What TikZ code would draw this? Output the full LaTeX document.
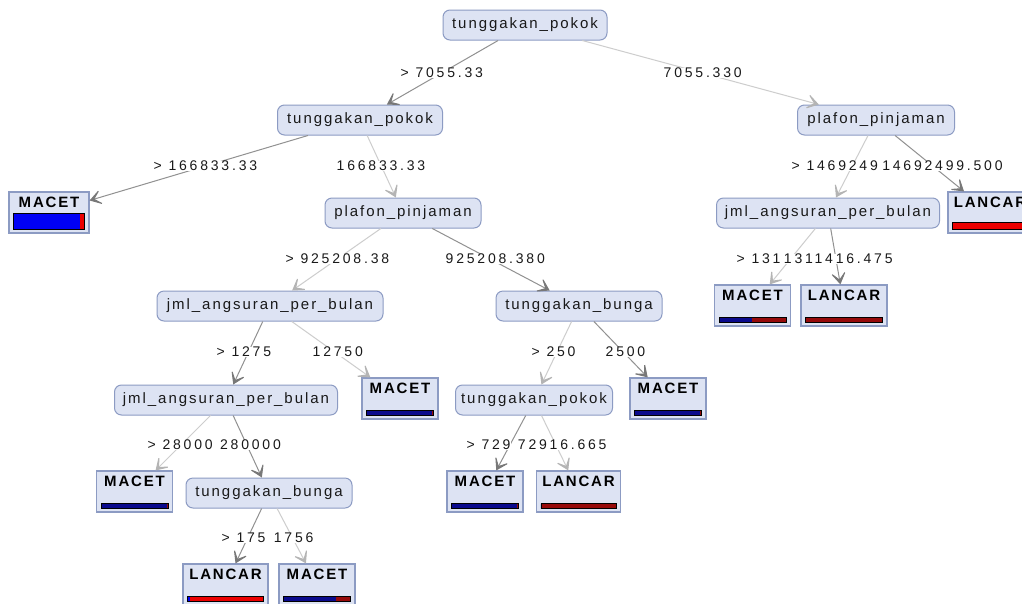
\documentclass[tikz,border=0pt]{standalone}
\usepackage{fontspec}
\setmainfont{Liberation Sans}
\newfontfamily\nfont[LetterSpace=13]{Liberation Sans}
\newfontfamily\bfont[LetterSpace=12]{Liberation Sans Bold}
\newfontfamily\lfont[LetterSpace=20]{Liberation Sans}
\usetikzlibrary{arrows.meta,calc}
\definecolor{nodefill}{RGB}{221,227,243}
\definecolor{nodeborder}{RGB}{140,155,195}
\definecolor{edgedark}{RGB}{145,145,145}
\definecolor{edgelight}{RGB}{205,205,205}
\definecolor{tipdark}{RGB}{120,120,120}
\definecolor{tiplight}{RGB}{180,180,180}
\definecolor{nblue}{RGB}{10,10,140}
\definecolor{nred}{RGB}{150,10,10}
\definecolor{bblue}{RGB}{0,0,245}
\definecolor{bred}{RGB}{235,0,0}
\tikzset{
  inner/.style={draw=nodeborder, fill=nodefill, rounded corners=7pt, line width=1pt,
    minimum height=30, inner sep=0pt, text=black!90, font=\nfont\fontsize{15}{17}\selectfont},
  leafbox/.style={draw=nodeborder, fill=nodefill, line width=1.2pt, minimum height=41, inner sep=0pt},
  leaftext/.style={font=\bfont\fontsize{15}{17}\selectfont, text=black, inner sep=0pt},
  elabel/.style={anchor=west, fill=white, inner sep=0.5pt, text=black!90, font=\lfont\fontsize{14}{16}\selectfont},
  dk/.style={draw=edgedark, line width=1pt, -{Stealth[length=15pt,width=19pt,inset=10pt,fill=tipdark,color=tipdark]}},
  lt/.style={draw=edgelight, line width=1pt, -{Stealth[length=15pt,width=19pt,inset=10pt,fill=tiplight,color=tiplight]}},
}
% name, x, y, width, text, blue fraction, bar height, colour set (n or b)
\newcommand\leafnode[8]{%
  \node[leafbox, minimum width=#4] (#1) at (#2,#3) {};
  \node[leaftext] at ($(#1.north)+(0,11)$) {#5};
  \fill[#8blue] ($(#1.south west)+(5,-4)$) rectangle ($(#1.south west)+({5+#6*(#4-10)},{-4-#7})$);
  \fill[#8red] ($(#1.south west)+({5+#6*(#4-10)},-4)$) rectangle ($(#1.south east)+(-5,{-4-#7})$);
  \draw[black, line width=0.8pt] ($(#1.south west)+(5,-4)$) rectangle ($(#1.south east)+(-5,{-4-#7})$);
}
\begin{document}
\begin{tikzpicture}[x=1pt,y=-1pt]
\useasboundingbox (0,0) rectangle (1022,603);
\clip (0,0) rectangle (1022,603);
\fill[white] (0,0) rectangle (1022,603);
% inner nodes
\node[inner, minimum width=164] (root) at (525,25) {tunggakan\_pokok};
\node[inner, minimum width=165] (tpL) at (360,120) {tunggakan\_pokok};
\node[inner, minimum width=157] (plR) at (876,120) {plafon\_pinjaman};
\node[inner, minimum width=156] (plM) at (403,213) {plafon\_pinjaman};
\node[inner, minimum width=223] (jmlR) at (828,213) {jml\_angsuran\_per\_bulan};
\node[inner, minimum width=226] (jmlL) at (270,306) {jml\_angsuran\_per\_bulan};
\node[inner, minimum width=166] (tbM) at (579,306) {tunggakan\_bunga};
\node[inner, minimum width=223] (jmlLL) at (226,400) {jml\_angsuran\_per\_bulan};
\node[inner, minimum width=157] (tpM) at (534,400) {tunggakan\_pokok};
\node[inner, minimum width=166] (tbL) at (269,493) {tunggakan\_bunga};
% leaves
\leafnode{m1}{49}{212.5}{80}{MACET}{0.95}{16}{b}
\leafnode{lR}{990}{212.5}{84}{LANCAR}{0}{7}{b}
\leafnode{mR}{752.5}{305.5}{76}{MACET}{0.5}{5}{n}
\leafnode{lR2}{844}{305.5}{86}{LANCAR}{0}{5}{n}
\leafnode{m2}{400}{398.5}{76}{MACET}{1}{5}{n}
\leafnode{m3}{668}{398.5}{76}{MACET}{1}{5}{n}
\leafnode{m4}{134.5}{491.5}{76}{MACET}{1}{5}{n}
\leafnode{m5}{485}{491.5}{76}{MACET}{1}{5}{n}
\leafnode{l3}{578.5}{491.5}{84}{LANCAR}{0}{5}{n}
\leafnode{l4}{225.5}{584.5}{85}{LANCAR}{0.04}{5}{b}
\leafnode{m6}{317}{584.5}{76}{MACET}{0.8}{5}{n}
% edges
\draw[dk] (root) -- (tpL);
\draw[lt] (root) -- (plR);
\draw[dk] (tpL) -- (m1);
\draw[lt] (tpL) -- (plM);
\draw[lt] (plM) -- (jmlL);
\draw[dk] (plM) -- (tbM);
\draw[lt] (plR) -- (jmlR);
\draw[dk] (plR) -- (lR);
\draw[lt] (jmlR) -- (mR);
\draw[dk] (jmlR) -- (lR2);
\draw[dk] (jmlL) -- (jmlLL);
\draw[lt] (jmlL) -- (m2);
\draw[lt] (tbM) -- (tpM);
\draw[dk] (tbM) -- (m3);
\draw[lt] (jmlLL) -- (m4);
\draw[dk] (jmlLL) -- (tbL);
\draw[dk] (tpM) -- (m5);
\draw[lt] (tpM) -- (l3);
\draw[dk] (tbL) -- (l4);
\draw[lt] (tbL) -- (m6);
% edge labels
\node[elabel] (e1) at (400,73) {> 7055.33};
\node[elabel] (e2) at (663,73) {7055.330};
\node[elabel] (e3) at (153,166) {> 166833.33};
\node[elabel] (e4) at (336,166) {166833.33};
\node[elabel] (e5) at (285,259) {> 925208.38};
\node[elabel] (e6) at (445,259) {925208.380};
\node[elabel] (e7) at (791,166) {> 1469249};
\node[elabel] (e8) at ([xshift=3pt]e7.east) {14692499.500};
\node[elabel] (e9) at (736,259) {> 131};
\node[elabel] (e10) at ([xshift=2pt]e9.east) {1311416.475};
\node[elabel] (e11) at (216,352) {> 1275};
\node[elabel] (e12) at (312,352) {12750};
\node[elabel] (e13) at (531,352) {> 250};
\node[elabel] (e14) at (605,352) {2500};
\node[elabel] (e15) at (147,445) {> 28000};
\node[elabel] (e16) at ([xshift=6pt]e15.east) {280000};
\node[elabel] (e17) at (466,445) {> 729};
\node[elabel] (e18) at ([xshift=6pt]e17.east) {72916.665};
\node[elabel] (e19) at (221,538) {> 175};
\node[elabel] (e20) at ([xshift=7pt]e19.east) {1756};
\end{tikzpicture}
\end{document}
